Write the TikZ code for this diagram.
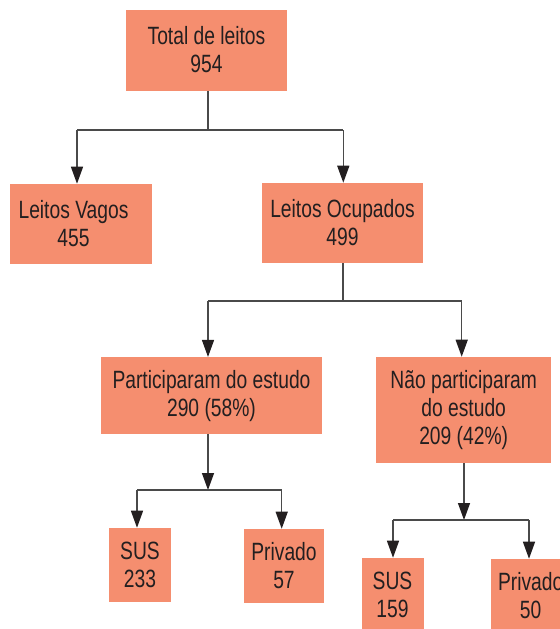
\documentclass[tikz,border=0pt]{standalone}
\usepackage{fontspec}
\setmainfont{Liberation Sans}[FakeStretch=0.77]
\usetikzlibrary{arrows.meta}
\definecolor{salmon}{HTML}{F58E6F}
\definecolor{txt}{HTML}{231F20}
\definecolor{lncol}{HTML}{4A4A4A}
\tikzset{
  box/.style={fill=salmon, inner sep=0pt, align=center, text=txt,
    font=\fontsize{18.75pt}{21pt}\selectfont},
  sz/.style 2 args={minimum width=#1*0.75pt, minimum height=#2*0.75pt},
  ln/.style={draw=lncol, line width=1pt},
  arr/.style={ln, -{Triangle[width=9pt,length=12.75pt,color=txt]}}
}
\begin{document}
\begin{tikzpicture}[x=0.75pt,y=-0.75pt]
\useasboundingbox (0,0) rectangle (560,629);
\clip (0,0) rectangle (560,629);
% boxes
\node[box, sz={161}{81}] (total) at (206.5,50) {Total de leitos\\954};
\node[box, sz={142}{80}] (vagos) at (81,224) {Leitos Vagos\hspace*{11.25pt}\\455\hspace*{11.25pt}};
\node[box, sz={161}{80}] (ocup) at (342.5,223) {Leitos Ocupados\\499};
\node[box, sz={221}{77}] (part) at (211.5,395.7) {Participaram do estudo\\290 (58\%)};
\node[box, sz={175}{106}] (nao) at (463.7,410) {Não participaram\\do estudo\\209 (42\%)};
\node[box, sz={62}{74}] (sus1) at (140,565) {SUS\\233};
\node[box, sz={80}{74}] (priv1) at (284,566) {Privado\\57};
\node[box, sz={62}{74}] (sus2) at (392.5,595) {SUS\\159};
\node[box, sz={80}{74}] (priv2) at (530.7,596) {Privado\\50};
% junction coordinates
\coordinate (s1) at (208,130);
\coordinate (b1l) at (77,130);
\coordinate (b1r) at (343.3,130);
\coordinate (s2) at (343,301);
\coordinate (b2l) at (208,301);
\coordinate (b2r) at (461.7,301);
\coordinate (s3) at (208,490);
\coordinate (b3l) at (137,490);
\coordinate (b3r) at (281.7,490);
\coordinate (s4) at (464,520);
\coordinate (b4l) at (393,520);
\coordinate (b4r) at (529,520);
% level 1
\draw[ln] (total.south -| s1) -- (s1);
\draw[ln] (b1l) -- (b1r);
\draw[arr] (b1l) -- (b1l |- vagos.north);
\draw[arr] (b1r) -- (b1r |- ocup.north);
% level 2
\draw[ln] (ocup.south -| s2) -- (s2);
\draw[ln] (b2l) -- (b2r);
\draw[arr] (b2l) -- (b2l |- part.north);
\draw[arr] (b2r) -- (b2r |- nao.north);
% level 3a
\draw[arr] (part.south -| s3) -- (s3);
\draw[ln] (b3l) -- (b3r);
\draw[arr] (b3l) -- (b3l |- sus1.north);
\draw[arr] (b3r) -- (b3r |- priv1.north);
% level 3b
\draw[arr] (nao.south -| s4) -- (s4);
\draw[ln] (b4l) -- (b4r);
\draw[arr] (b4l) -- (b4l |- sus2.north);
\draw[arr] (b4r) -- (b4r |- priv2.north);
\end{tikzpicture}
\end{document}
